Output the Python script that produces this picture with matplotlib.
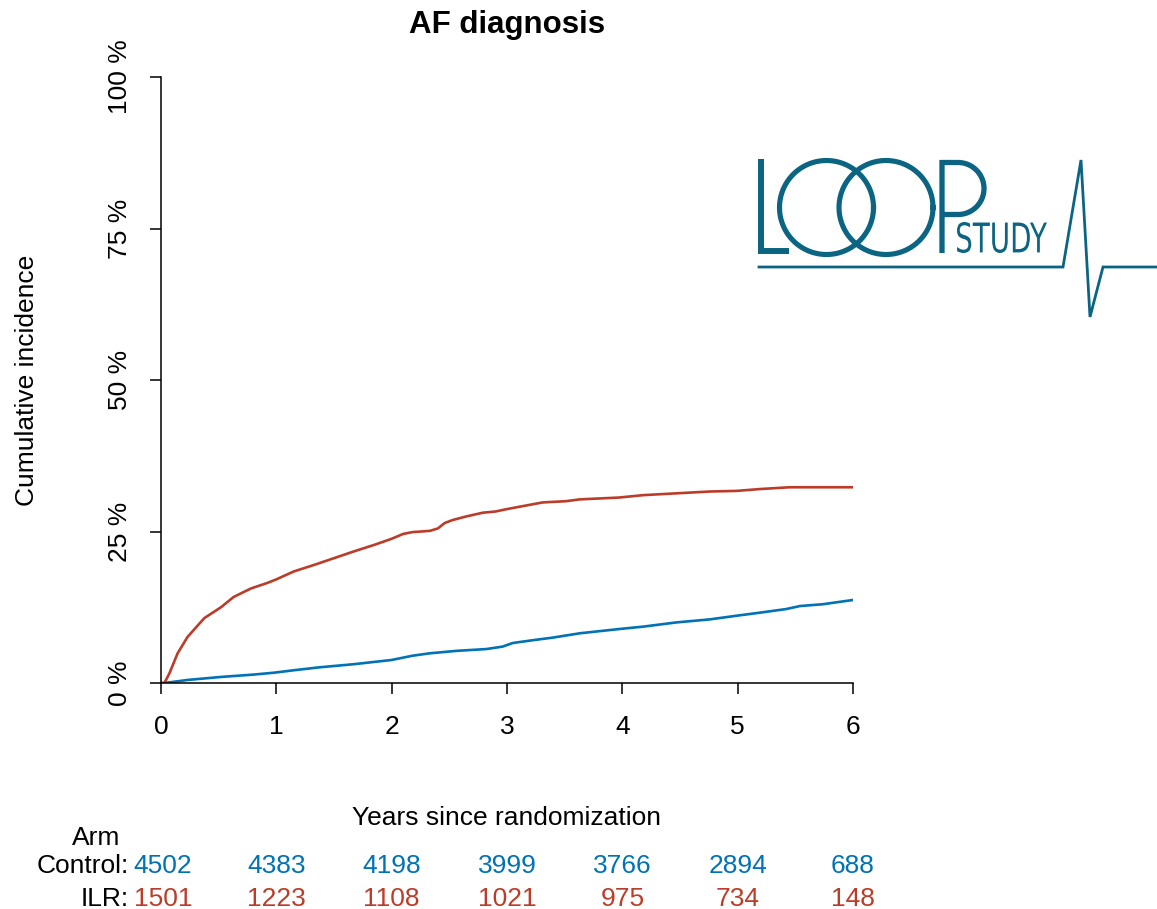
import numpy as np
import matplotlib
matplotlib.use("Agg")
import matplotlib.pyplot as plt
from matplotlib.textpath import TextPath
from matplotlib.font_manager import FontProperties
from matplotlib.patches import PathPatch
from matplotlib.transforms import Affine2D

plt.rcParams["font.family"] = ["Liberation Sans", "DejaVu Sans"]

# cumulative incidence (%)
ilr_years = [0, 0.03, 0.073, 0.144, 0.23, 0.375, 0.52, 0.63, 0.78, 0.92, 1.0, 1.15, 1.33,
             1.5, 1.67, 1.85, 2.0, 2.1, 2.18, 2.33, 2.4, 2.46, 2.53, 2.65, 2.79, 2.9, 3.0,
             3.14, 3.31, 3.51, 3.63, 3.97, 4.18, 4.47, 4.76, 4.99, 5.19, 5.45, 6.0]
ilr_pct = [0, 0, 1.6, 4.9, 7.6, 10.7, 12.5, 14.2, 15.6, 16.5, 17.1, 18.4, 19.5,
           20.6, 21.7, 22.8, 23.8, 24.6, 24.9, 25.1, 25.5, 26.4, 26.9, 27.5, 28.1, 28.3, 28.7,
           29.2, 29.8, 30.0, 30.3, 30.6, 31.0, 31.3, 31.6, 31.7, 32.0, 32.3, 32.3]
ctrl_years = [0, 0.03, 0.23, 0.52, 0.81, 0.98, 1.15, 1.38, 1.67, 2.0, 2.18, 2.33, 2.56,
              2.82, 2.96, 3.05, 3.2, 3.4, 3.63, 3.97, 4.18, 4.47, 4.76, 4.99, 5.19, 5.42,
              5.54, 5.74, 6.0]
ctrl_pct = [0, 0, 0.5, 1.0, 1.4, 1.7, 2.1, 2.6, 3.1, 3.8, 4.5, 4.9, 5.3,
            5.6, 6.0, 6.6, 7.0, 7.5, 8.2, 8.9, 9.3, 10.0, 10.5, 11.1, 11.6, 12.2,
            12.7, 13.0, 13.7]

# numbers at risk
risk_years = [0, 1, 2, 3, 4, 5, 6]
risk_ctrl = [4502, 4383, 4198, 3999, 3766, 2894, 688]
risk_ilr = [1501, 1223, 1108, 1021, 975, 734, 148]

y_ticks = [0, 25, 50, 75, 100]
y_ticklabels = ["0 %", "25 %", "50 %", "75 %", "100 %"]

RED = "#BC3C29"
BLUE = "#0072B5"
TEAL = "#0B6482"
W, H = 1157, 909
fs = 19

fig = plt.figure(figsize=(W / 100, H / 100), dpi=100)
ax = fig.add_axes([161 / W, 1 - 683 / H, 692 / W, 606 / H])

ax.plot(ctrl_years, ctrl_pct, color=BLUE, lw=1.9)
ax.plot(ilr_years, ilr_pct, color=RED, lw=1.9)

ax.set_xlim(0, 6)
ax.set_ylim(0, 100)
for s in ["top", "right"]:
    ax.spines[s].set_visible(False)
for s in ["left", "bottom"]:
    ax.spines[s].set_linewidth(1.1)
ax.set_xticks(risk_years)
ax.set_yticks(y_ticks)
ax.set_yticklabels(y_ticklabels, rotation=90, va="center")
ax.tick_params(axis="both", direction="out", length=8, width=1.1, labelsize=fs)
ax.tick_params(axis="y", pad=13)
ax.tick_params(axis="x", pad=15)

fig.text(507 / W, 1 - 25 / H, "AF diagnosis", ha="center", va="center",
         fontsize=22.5, fontweight="bold")
fig.text(27 / W, 1 - 380 / H, "Cumulative incidence", rotation=90,
         ha="center", va="center", fontsize=fs)
fig.text(507 / W, 1 - 818 / H, "Years since randomization", ha="center",
         va="center", fontsize=fs)

# risk table
fig.text(96 / W, 1 - 838 / H, "Arm", ha="center", va="center", fontsize=fs)
fig.text(129 / W, 1 - 866 / H, "Control:", ha="right", va="center", fontsize=fs)
fig.text(129 / W, 1 - 899 / H, "ILR:", ha="right", va="center", fontsize=fs)
for x, c, i in zip(risk_years, risk_ctrl, risk_ilr):
    fx = (161 + x * 692 / 6 + (2 if x == 0 else 0)) / W
    fig.text(fx, 1 - 866 / H, str(c), ha="center", va="center", fontsize=fs, color=BLUE)
    fig.text(fx, 1 - 899 / H, str(i), ha="center", va="center", fontsize=fs, color=RED)

# LOOP study logo, drawn in pixel coordinates
lax = fig.add_axes([0, 0, 1, 1], facecolor="none")
lax.set_xlim(0, W)
lax.set_ylim(H, 0)
lax.axis("off")
# L
lax.plot([761, 761, 789], [159, 250.5, 250.5], color=TEAL, lw=4.3,
         solid_joinstyle="miter", solid_capstyle="butt")
# two O's
th = np.linspace(0, 2 * np.pi, 200)
for cx in [826.5, 886]:
    lax.plot(cx + 47 * np.cos(th), 207.5 + 47 * np.sin(th), color=TEAL, lw=3.7)
# P
pth = np.linspace(-np.pi / 2, np.pi / 2, 100)
px = np.concatenate([[942, 942, 942, 958], 958 + 26 * np.cos(pth), [942]])
py = np.concatenate([[253, 162.5, 162.5, 162.5], 188.5 + 26 * np.sin(pth), [214.5]])
lax.plot(px, py, color=TEAL, lw=3.8, solid_joinstyle="miter",
         solid_capstyle="butt")
# STUDY text scaled into its box
tp = TextPath((0, 0), "STUDY", size=1,
              prop=FontProperties(family=["Liberation Sans Narrow", "DejaVu Sans"]))
ext = tp.get_extents()
sx = (1047 - 957) / ext.width
sy = (253 - 222) / ext.height
tr = Affine2D().translate(-ext.x0, -ext.y0).scale(sx, -sy).translate(957, 253)
lax.add_patch(PathPatch(tr.transform_path(tp), color=TEAL, lw=0))
# baseline + ECG spike
lax.plot([759, 1063, 1081, 1090, 1103, 1157], [267, 267, 160, 317, 267, 267],
         color=TEAL, lw=2.0, solid_joinstyle="miter")

fig.savefig("out.png", dpi=100)
